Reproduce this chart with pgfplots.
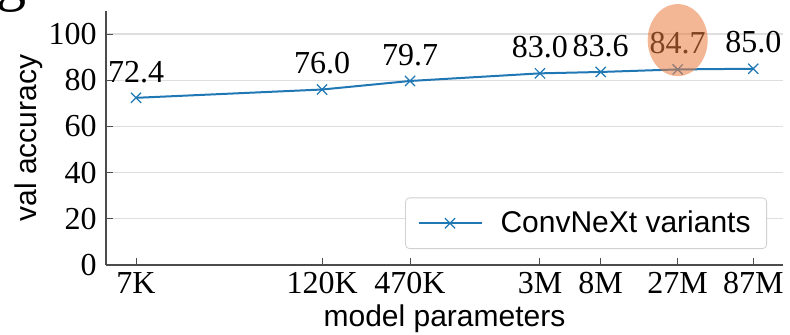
\documentclass[border=0pt]{standalone}
\usepackage{fontspec}
\setmainfont{Liberation Serif}
\newfontfamily\sansf{Liberation Sans}
\usepackage{pgfplots}
\pgfplotsset{compat=1.18}
\definecolor{mplblue}{HTML}{1F77B4}
\definecolor{peach}{RGB}{233,123,63}
\begin{document}
\begin{tikzpicture}
\begin{axis}[
  at={(0,0)}, anchor=south west,
  scale only axis, width=338.5pt, height=127pt,
  xmode=log, xmin=4426, xmax=1.37e8, ymin=0, ymax=110,
  clip=false,
  axis lines*=left,
  axis line style={draw=black!70, line width=0.9pt},
  xtick={7000,1.2e5,4.6e5,3.347e6,8.46e6,2.742e7,8.7e7},
  xticklabels={7K,120K,470K,3M,8M,27M,87M},
  ytick={0,20,40,60,80,100},
  xminorticks=false, yminorticks=false,
  tick align=inside, major tick length=3.5pt,
  tick style={draw=black!70, line width=0.5pt},
  ymajorgrids, grid style={draw=black!13, line width=0.6pt},
  /pgf/number format/assume math mode=true,
  ticklabel style={font=\fontsize{16}{18}\selectfont, inner sep=0pt},
  xticklabel style={anchor=base, yshift=-14pt},
  yticklabel style={anchor=east, xshift=-4.5pt},
  xlabel={model parameters}, ylabel={val accuracy},
  label style={font=\sansf\fontsize{15}{18}\selectfont, inner sep=0pt},
  xlabel style={at={(axis description cs:0.5,-0.2402)}, anchor=base},
  ylabel style={at={(axis description cs:-0.1028,0.5)}, anchor=base},
  legend style={at={(1,0)}, anchor=south east, xshift=-8pt, yshift=8pt,
    draw=black!18, rounded corners=2pt, fill=white,
    font=\sansf\fontsize{15}{18}\selectfont, inner xsep=6pt, inner ysep=4.5pt,
    /tikz/every odd column/.append style={column sep=7pt}},
  legend image code/.code={\draw[mark repeat=2, mark phase=2] plot coordinates {(0pt,0pt)(15.75pt,0pt)(31.5pt,0pt)};},
]
\addplot[color=mplblue, line width=1pt, mark=x, mark size=3.6pt,
  mark options={line width=0.6pt},
  point meta=explicit symbolic, nodes near coords,
  nodes near coords style={anchor=base, inner sep=0pt, yshift=7.9pt, text=black, font=\fontsize{16}{18}\selectfont}]
  coordinates {
  (7000,72.4) [72.4]
  (1.2e5,76.0) [76.0]
  (4.6e5,79.7) [79.7]
  (3.347e6,83.0) [83.0]
  (8.46e6,83.6) [83.6]
  (2.742e7,84.7) [84.7]
  (8.7e7,85.0) [85.0]
  };
\addlegendentry{ConvNeXt variants}
\addplot[forget plot, only marks, color=peach, mark=*, mark size=15pt,
  mark options={yscale=1.2, fill=peach, line width=0pt, draw opacity=0, fill opacity=0.55}]
  coordinates {(2.742e7,97.4)};
\end{axis}
\node[anchor=base west, inner sep=0pt, font=\fontsize{30}{32}\selectfont] at (-55pt,133pt) {g};
\pgfresetboundingbox
\path[use as bounding box] (-53pt,-34.5pt) rectangle (342pt,132.5pt);
\end{tikzpicture}
\end{document}
